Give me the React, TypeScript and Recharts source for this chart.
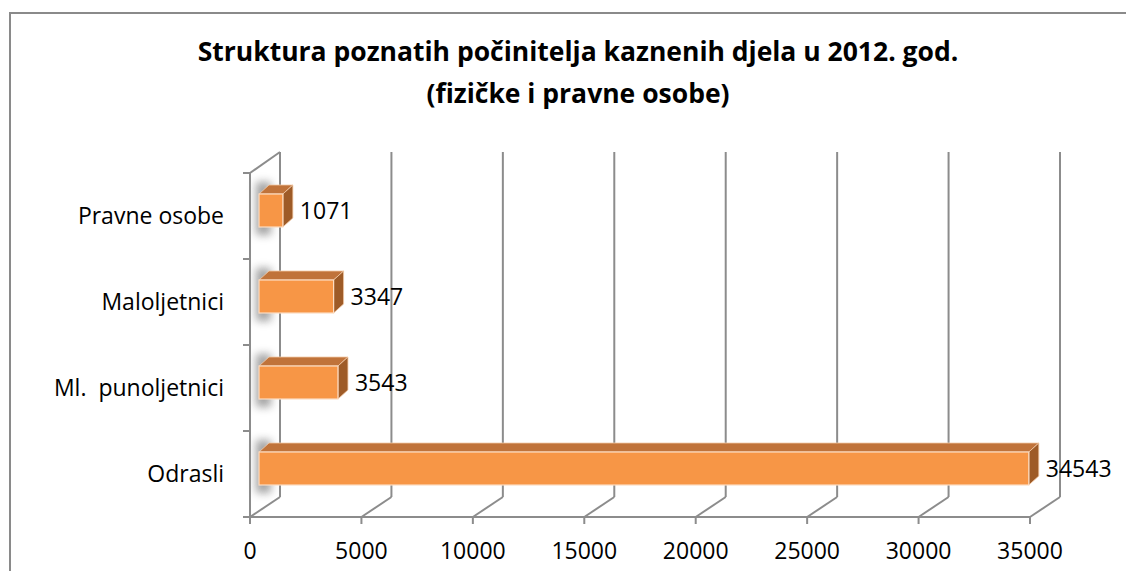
import React from 'react';
import { BarChart, Bar, XAxis, YAxis, CartesianGrid, LabelList } from 'recharts';

const categories = ['Pravne osobe', 'Maloljetnici', 'Ml.  punoljetnici', 'Odrasli'];
const values = [1071, 3347, 3543, 34543];
const xTicks = [0, 5000, 10000, 15000, 20000, 25000, 30000, 35000];
const titleLines = ['Struktura poznatih počinitelja kaznenih djela u 2012. god.', '(fizičke i pravne osobe)'];

const data = categories.map((name, i) => ({ name, value: values[i] }));

const FONT = '"Open Sans", "Liberation Sans", sans-serif';
const FS = 23;
const GRID = '#8c8c8c';
const DX = 30; // depth of back wall
const DY = 20;
const BDX = 9; // bar front offset
const BDY = 6;
const DEPTH_X = 10;
const DEPTH_Y = 9;

const VerticalGridLine = (props: any) => {
  const { x1, y1, y2, index } = props;
  return (
    <g key={`v-${index}`}>
      <line x1={x1 + DX} y1={y1 - DY - 1} x2={x1 + DX} y2={y2 - DY} stroke={GRID} strokeWidth={2} />
      <line x1={x1} y1={y2} x2={x1 + DX} y2={y2 - DY} stroke={GRID} strokeWidth={2} />
      {index === 0 ? (
        <line x1={x1} y1={y1} x2={x1 + DX} y2={y1 - DY - 1} stroke={GRID} strokeWidth={2} />
      ) : null}
    </g>
  );
};

const HorizontalTick = (props: any) => {
  const { x1, y1, index } = props;
  return <line key={`h-${index}`} x1={x1 - 7} y1={y1} x2={x1} y2={y1} stroke={GRID} strokeWidth={2} />;
};

const bandBoundaries = ({ offset }: any) => {
  const n = categories.length;
  const step = offset.height / n;
  const out: number[] = [];
  for (let i = 0; i <= n; i++) out.push(offset.top + step * i);
  return out;
};

const Bar3D = (props: any) => {
  const { x, y, width, height, index } = props;
  if (width == null || height == null) return null;
  const fx = x + BDX;
  const fy = y - BDY;
  const w = width;
  const h = height;
  const fid = `shadow-${index}`;
  return (
    <g>
      <defs>
        <filter id={fid} x="-100%" y="-100%" width="300%" height="300%">
          <feGaussianBlur stdDeviation={4} />
        </filter>
      </defs>
      <rect x={fx - 3} y={fy - 12} width={15} height={h + 20} fill="#7a7a7a" opacity={0.7} filter={`url(#${fid})`} />
      <polygon
        points={`${fx},${fy} ${fx + DEPTH_X},${fy - DEPTH_Y} ${fx + w + DEPTH_X},${fy - DEPTH_Y} ${fx + w},${fy}`}
        fill="#C0733A"
        stroke="#f3c9a6"
        strokeWidth={0.8}
      />
      <polygon
        points={`${fx + w},${fy} ${fx + w + DEPTH_X},${fy - DEPTH_Y} ${fx + w + DEPTH_X},${fy + h - DEPTH_Y} ${fx + w},${fy + h}`}
        fill="#9E5B27"
        stroke="#f3c9a6"
        strokeWidth={0.8}
      />
      <rect x={fx} y={fy} width={w} height={h} fill="#F79646" stroke="#FCDCC2" strokeWidth={1.2} />
    </g>
  );
};

const ValueLabel = (props: any) => {
  const { x, y, width, height, value } = props;
  return (
    <text
      x={x + width + BDX + DEPTH_X + 7}
      y={y - BDY + height / 2}
      dy="0.36em"
      fontSize={FS}
      fontFamily={FONT}
      fill="#000"
    >
      {value}
    </text>
  );
};

const YTick = (props: any) => {
  const { x, y, payload } = props;
  return (
    <text x={x} y={y} dy="0.36em" textAnchor="end" fontSize={FS} fontFamily={FONT} fill="#000" style={{ whiteSpace: 'pre' }}>
      {payload.value}
    </text>
  );
};

const XTick = (props: any) => {
  const { x, y, payload } = props;
  return (
    <text x={x} y={y} dy="0.71em" textAnchor="middle" fontSize={FS} fontFamily={FONT} fill="#000">
      {payload.value}
    </text>
  );
};

export default function App() {
  return (
    <div style={{ position: 'relative', width: 1134, height: 579, margin: -8, background: '#fff', overflow: 'hidden' }}>
      <div
        style={{
          position: 'absolute',
          left: 9,
          top: 12,
          width: 1125,
          height: 567,
          borderLeft: '2px solid #8a8a8a',
          borderTop: '2px solid #8a8a8a',
          boxSizing: 'border-box',
        }}
      />
      <div
        style={{
          position: 'absolute',
          left: 0,
          top: 30,
          width: 1156,
          textAlign: 'center',
          fontFamily: FONT,
          fontWeight: 700,
          fontSize: 26.5,
          lineHeight: '42px',
          color: '#000',
        }}
      >
        {titleLines.map((t) => (
          <div key={t}>{t}</div>
        ))}
      </div>
      <div style={{ position: 'absolute', left: 0, top: 0 }}>
        <BarChart
          width={1134}
          height={579}
          data={data}
          layout="vertical"
          margin={{ top: 173, right: 104, left: 0, bottom: 0 }}
          barSize={33}
        >
          <CartesianGrid
            vertical={VerticalGridLine as any}
            horizontal={HorizontalTick as any}
            horizontalCoordinatesGenerator={bandBoundaries as any}
            stroke={GRID}
          />
          <XAxis
            type="number"
            domain={[0, 35000]}
            ticks={xTicks}
            interval={0}
            height={62}
            tickSize={7}
            tickMargin={19}
            axisLine={{ stroke: GRID, strokeWidth: 2 }}
            tickLine={{ stroke: GRID, strokeWidth: 2 }}
            tick={<XTick />}
          />
          <YAxis
            type="category"
            dataKey="name"
            width={250}
            tickLine={false}
            tickSize={0}
            tickMargin={26}
            axisLine={{ stroke: GRID, strokeWidth: 2 }}
            tick={<YTick />}
            interval={0}
          />
          <Bar dataKey="value" shape={<Bar3D />} isAnimationActive={false}>
            <LabelList dataKey="value" content={<ValueLabel />} />
          </Bar>
        </BarChart>
      </div>
    </div>
  );
}
